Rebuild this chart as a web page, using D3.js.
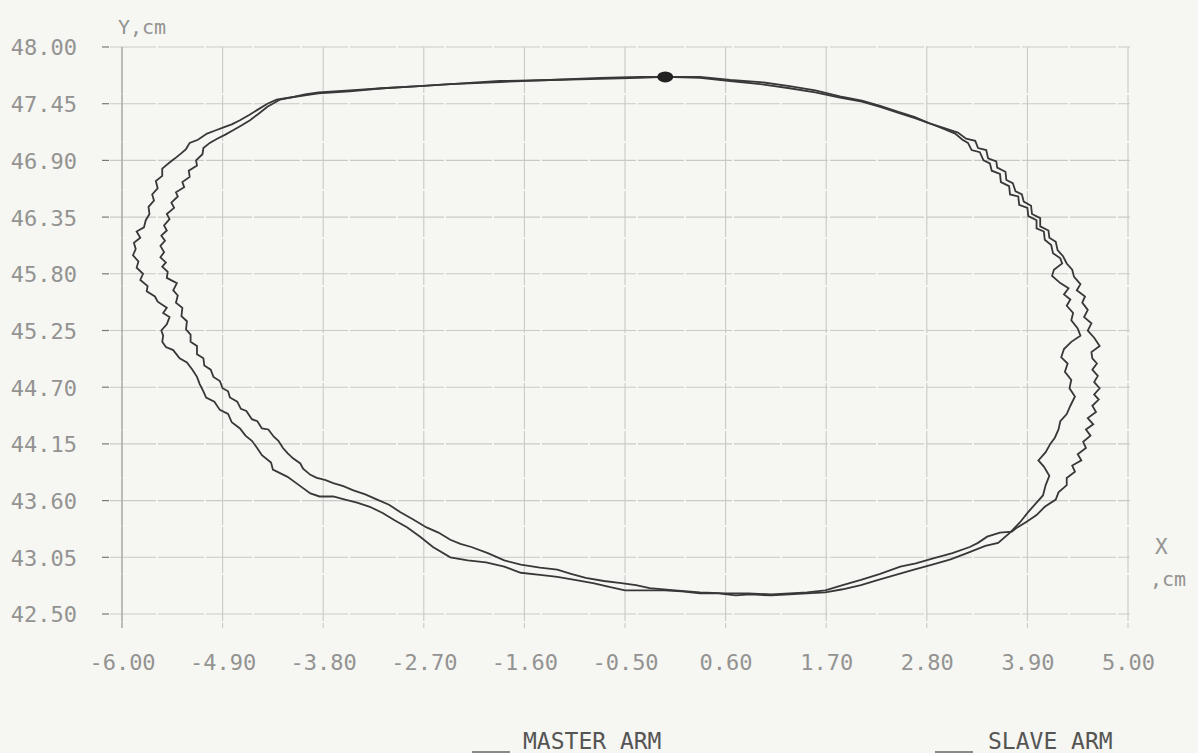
<!DOCTYPE html>
<html>
<head>
<meta charset="utf-8">
<script src="https://cdn.jsdelivr.net/npm/d3@7"></script>
<style>
  html, body { margin: 0; padding: 0; background: #f6f6f3; }
  svg { display: block; }
</style>
</head>
<body>
<svg id="chart" width="1198" height="753"></svg>
<script>
// Axis tick values (cm)
const xTicks = [-6.00, -4.90, -3.80, -2.70, -1.60, -0.50, 0.60, 1.70, 2.80, 3.90, 5.00];
const yTicks = [42.50, 43.05, 43.60, 44.15, 44.70, 45.25, 45.80, 46.35, 46.90, 47.45, 48.00];

// End-effector trajectory of the master arm, [X, Y] in cm
const masterArm = [
  [-0.06,47.71],[0.32,47.70],[0.65,47.67],[0.98,47.64],[1.30,47.60],[1.58,47.56],[1.85,47.51],[2.09,47.47],
  [2.29,47.42],[2.49,47.36],[2.67,47.31],[2.83,47.26],[3.00,47.20],[3.11,47.16],[3.19,47.10],[3.25,47.07],
  [3.29,47.00],[3.38,46.98],[3.42,46.90],[3.49,46.87],[3.51,46.80],[3.60,46.77],[3.61,46.69],[3.70,46.65],
  [3.71,46.57],[3.80,46.55],[3.81,46.47],[3.90,46.44],[3.91,46.36],[4.00,46.32],[4.00,46.24],[4.08,46.21],
  [4.09,46.13],[4.16,46.08],[4.18,46.00],[4.26,45.95],[4.28,45.90],[4.19,45.84],[4.17,45.78],[4.26,45.71],
  [4.35,45.66],[4.30,45.60],[4.37,45.55],[4.33,45.49],[4.40,45.42],[4.38,45.35],[4.45,45.27],[4.48,45.20],
  [4.38,45.14],[4.30,45.07],[4.27,44.99],[4.34,44.93],[4.31,44.85],[4.38,44.77],[4.36,44.69],[4.42,44.61],
  [4.37,44.52],[4.33,44.44],[4.26,44.37],[4.24,44.29],[4.20,44.21],[4.15,44.15],[4.10,44.07],[4.02,43.99],
  [4.08,43.93],[4.14,43.84],[4.10,43.75],[4.07,43.65],[4.00,43.58],[3.91,43.49],[3.82,43.39],[3.71,43.29],
  [3.58,43.19],[3.44,43.16],[3.24,43.09],[3.06,43.03],[2.86,42.98],[2.66,42.93],[2.46,42.88],[2.27,42.83],
  [2.08,42.78],[1.88,42.74],[1.69,42.71],[1.49,42.70],[1.30,42.69],[1.10,42.68],[0.87,42.69],[0.71,42.68],
  [0.52,42.70],[0.32,42.70],[0.12,42.72],[-0.07,42.73],[-0.28,42.73],[-0.50,42.73],[-0.66,42.76],[-0.85,42.80],
  [-1.05,42.83],[-1.24,42.86],[-1.43,42.88],[-1.64,42.90],[-1.82,42.96],[-2.02,43.00],[-2.22,43.02],[-2.41,43.05],
  [-2.60,43.15],[-2.74,43.25],[-2.88,43.34],[-3.02,43.41],[-3.15,43.48],[-3.29,43.54],[-3.43,43.58],[-3.56,43.61],
  [-3.69,43.64],[-3.84,43.64],[-3.94,43.67],[-4.08,43.76],[-4.19,43.83],[-4.35,43.90],[-4.37,43.97],[-4.47,44.04],
  [-4.53,44.12],[-4.58,44.18],[-4.65,44.23],[-4.71,44.30],[-4.80,44.36],[-4.84,44.44],[-4.93,44.48],[-4.99,44.56],
  [-5.08,44.60],[-5.11,44.66],[-5.15,44.73],[-5.18,44.80],[-5.23,44.87],[-5.29,44.94],[-5.37,44.98],[-5.44,45.06],
  [-5.52,45.09],[-5.56,45.14],[-5.55,45.20],[-5.57,45.25],[-5.51,45.31],[-5.48,45.38],[-5.55,45.42],[-5.51,45.47],
  [-5.61,45.53],[-5.64,45.58],[-5.73,45.63],[-5.72,45.68],[-5.80,45.74],[-5.77,45.80],[-5.84,45.86],[-5.82,45.92],
  [-5.88,45.98],[-5.85,46.04],[-5.87,46.10],[-5.80,46.15],[-5.84,46.21],[-5.76,46.25],[-5.74,46.32],[-5.70,46.38],
  [-5.71,46.45],[-5.65,46.51],[-5.67,46.57],[-5.61,46.63],[-5.63,46.70],[-5.56,46.75],[-5.56,46.82],[-5.48,46.88],
  [-5.42,46.92],[-5.35,46.97],[-5.30,47.01],[-5.26,47.07],[-5.17,47.10],[-5.07,47.16],[-4.98,47.19],[-4.89,47.22],
  [-4.80,47.25],[-4.71,47.29],[-4.61,47.34],[-4.52,47.39],[-4.41,47.45],[-4.31,47.49],[-4.16,47.51],[-4.00,47.53],
  [-3.85,47.55],[-3.51,47.57],[-3.15,47.60],[-2.75,47.62],[-2.41,47.64],[-1.87,47.66],[-1.32,47.68],[-0.77,47.69],
  [-0.34,47.70]
];

// End-effector trajectory of the slave arm, [X, Y] in cm
const slaveArm = [
  [-0.06,47.71],[0.32,47.71],[0.65,47.68],[0.98,47.66],[1.30,47.62],[1.58,47.58],[1.85,47.52],[2.09,47.48],
  [2.29,47.43],[2.49,47.37],[2.67,47.32],[2.83,47.26],[3.00,47.21],[3.14,47.17],[3.23,47.11],[3.33,47.09],
  [3.36,47.02],[3.45,47.00],[3.47,46.92],[3.56,46.89],[3.57,46.83],[3.66,46.79],[3.67,46.71],[3.74,46.68],
  [3.77,46.60],[3.84,46.57],[3.86,46.50],[3.94,46.46],[3.95,46.38],[4.04,46.34],[4.04,46.26],[4.13,46.22],
  [4.14,46.15],[4.21,46.11],[4.23,46.03],[4.29,45.97],[4.33,45.90],[4.39,45.84],[4.41,45.77],[4.48,45.70],
  [4.44,45.64],[4.53,45.58],[4.50,45.52],[4.56,45.45],[4.52,45.38],[4.60,45.32],[4.56,45.25],[4.63,45.18],
  [4.69,45.10],[4.60,45.04],[4.61,44.98],[4.66,44.93],[4.61,44.87],[4.67,44.81],[4.63,44.75],[4.69,44.69],
  [4.63,44.63],[4.68,44.58],[4.61,44.52],[4.65,44.46],[4.56,44.40],[4.62,44.34],[4.54,44.29],[4.59,44.23],
  [4.51,44.17],[4.54,44.11],[4.45,44.05],[4.49,43.99],[4.39,43.94],[4.42,43.88],[4.33,43.82],[4.33,43.75],
  [4.24,43.68],[4.21,43.61],[4.09,43.54],[4.00,43.46],[3.90,43.40],[3.79,43.34],[3.73,43.30],[3.60,43.29],
  [3.46,43.25],[3.36,43.19],[3.27,43.15],[3.08,43.09],[2.87,43.04],[2.68,42.99],[2.51,42.96],[2.29,42.89],
  [2.08,42.83],[1.88,42.78],[1.69,42.73],[1.49,42.71],[1.30,42.70],[1.10,42.69],[0.85,42.70],[0.60,42.70],
  [0.32,42.71],[0.05,42.73],[-0.23,42.75],[-0.38,42.78],[-0.54,42.80],[-0.73,42.82],[-0.93,42.85],[-1.09,42.89],
  [-1.24,42.93],[-1.43,42.95],[-1.64,42.98],[-1.82,43.02],[-2.00,43.09],[-2.18,43.15],[-2.30,43.18],[-2.41,43.22],
  [-2.54,43.29],[-2.67,43.34],[-2.82,43.42],[-2.96,43.49],[-3.08,43.56],[-3.21,43.61],[-3.34,43.66],[-3.47,43.70],
  [-3.58,43.74],[-3.69,43.77],[-3.78,43.80],[-3.87,43.82],[-3.94,43.85],[-4.02,43.91],[-4.05,43.96],[-4.13,44.01],
  [-4.19,44.06],[-4.24,44.11],[-4.29,44.18],[-4.34,44.22],[-4.40,44.29],[-4.47,44.30],[-4.52,44.37],[-4.58,44.39],
  [-4.64,44.47],[-4.70,44.49],[-4.74,44.56],[-4.82,44.60],[-4.84,44.66],[-4.90,44.69],[-4.93,44.76],[-5.00,44.80],
  [-5.03,44.87],[-5.10,44.91],[-5.11,44.98],[-5.18,45.02],[-5.18,45.10],[-5.25,45.14],[-5.25,45.21],[-5.30,45.26],
  [-5.29,45.34],[-5.35,45.39],[-5.34,45.47],[-5.41,45.52],[-5.39,45.59],[-5.44,45.64],[-5.40,45.71],[-5.51,45.76],
  [-5.50,45.82],[-5.56,45.87],[-5.52,45.91],[-5.58,45.96],[-5.54,46.01],[-5.58,46.07],[-5.53,46.12],[-5.57,46.17],
  [-5.51,46.22],[-5.54,46.27],[-5.48,46.33],[-5.51,46.38],[-5.43,46.44],[-5.46,46.49],[-5.39,46.55],[-5.41,46.59],
  [-5.32,46.64],[-5.34,46.69],[-5.26,46.74],[-5.27,46.80],[-5.18,46.85],[-5.19,46.90],[-5.12,46.96],[-5.11,47.02],
  [-5.04,47.07],[-4.96,47.11],[-4.87,47.15],[-4.79,47.19],[-4.69,47.24],[-4.60,47.29],[-4.51,47.35],[-4.41,47.42],
  [-4.27,47.49],[-4.16,47.51],[-4.00,47.54],[-3.85,47.56],[-3.51,47.58],[-3.15,47.60],[-2.75,47.62],[-2.41,47.64],
  [-1.87,47.67],[-1.32,47.68],[-0.77,47.70],[-0.34,47.71]
];

// Common start/end position of both arms
const startPoint = [-0.06, 47.71];

const seriesNames = ["MASTER ARM", "SLAVE ARM"];

const svg = d3.select("#chart");

const x = d3.scaleLinear().domain([-6, 5]).range([122, 1128]);
const y = d3.scaleLinear().domain([42.5, 48]).range([614, 47]);

const gridColor = "#c9c9c6";
const labelColor = "#939391";
const inkColor = "#383838";
const monoFont = "'DejaVu Sans Mono', 'Liberation Mono', monospace";

// Paper background
svg.append("rect").attr("width", 1198).attr("height", 753).attr("fill", "#f6f6f3");

// Grid
const grid = svg.append("g").attr("class", "grid");
grid.selectAll("line.h").data(yTicks).join("line")
  .attr("class", "h")
  .attr("x1", 110).attr("x2", x(5) + 2)
  .attr("y1", d => y(d)).attr("y2", d => y(d))
  .attr("stroke", gridColor).attr("stroke-width", 1.1)
  .attr("stroke-dasharray", "46,2");
grid.selectAll("line.v").data(xTicks).join("line")
  .attr("class", "v")
  .attr("x1", d => x(d)).attr("x2", d => x(d))
  .attr("y1", y(48)).attr("y2", y(42.5) + 14)
  .attr("stroke", gridColor).attr("stroke-width", 1.1)
  .attr("stroke-dasharray", "46,2");

// Left axis line and small ticks
svg.append("line")
  .attr("x1", x(-6)).attr("x2", x(-6))
  .attr("y1", y(48)).attr("y2", y(42.5) + 14)
  .attr("stroke", "#a4a4a2").attr("stroke-width", 1.2);
svg.append("g").selectAll("line").data(yTicks).join("line")
  .attr("x1", 102).attr("x2", 109)
  .attr("y1", d => y(d)).attr("y2", d => y(d))
  .attr("stroke", "#7a7a78").attr("stroke-width", 1.2);

// Tick labels through d3 axes
const yAxis = d3.axisLeft(y).tickValues(yTicks).tickFormat(d => d.toFixed(2))
  .tickSize(0).tickPadding(45);
const gy = svg.append("g").attr("transform", `translate(${x(-6)},0)`).call(yAxis);
gy.select(".domain").remove();
gy.selectAll("text")
  .attr("font-family", monoFont).attr("font-size", 22)
  .attr("fill", labelColor).attr("dy", "0.36em");

const xAxis = d3.axisBottom(x).tickValues(xTicks).tickFormat(d => d.toFixed(2))
  .tickSize(0).tickPadding(0);
const gx = svg.append("g").attr("transform", `translate(0,${y(42.5)})`).call(xAxis);
gx.select(".domain").remove();
gx.selectAll("text")
  .attr("font-family", monoFont).attr("font-size", 22)
  .attr("fill", labelColor).attr("y", 56).attr("dy", 0);

// Axis titles
svg.append("text").attr("x", 118).attr("y", 34).text("Y,cm")
  .attr("font-family", monoFont).attr("font-size", 20).attr("fill", labelColor);
svg.append("text").attr("x", 1155).attr("y", 554).text("X")
  .attr("font-family", monoFont).attr("font-size", 21).attr("fill", labelColor);
svg.append("text").attr("x", 1150).attr("y", 586).text(",cm")
  .attr("font-family", monoFont).attr("font-size", 20).attr("fill", labelColor);

// Trajectories
const line = d3.line().x(d => x(d[0])).y(d => y(d[1])).curve(d3.curveLinearClosed);
svg.append("g").selectAll("path").data([masterArm, slaveArm]).join("path")
  .attr("d", d => line(d))
  .attr("fill", "none")
  .attr("stroke", inkColor)
  .attr("stroke-width", 1.8)
  .attr("stroke-linejoin", "miter");

// Start point marker
svg.append("ellipse")
  .attr("cx", x(startPoint[0])).attr("cy", y(startPoint[1]))
  .attr("rx", 8).attr("ry", 5.5)
  .attr("fill", "#222");

// Legend
const legendPos = [{lx: 472, tx: 523}, {lx: 935, tx: 988}];
const legend = svg.append("g").selectAll("g").data(seriesNames).join("g");
legend.append("line")
  .attr("x1", (d, i) => legendPos[i].lx).attr("x2", (d, i) => legendPos[i].lx + 38)
  .attr("y1", 752).attr("y2", 752)
  .attr("stroke", "#666").attr("stroke-width", 1.5);
legend.append("text")
  .attr("x", (d, i) => legendPos[i].tx).attr("y", 749)
  .text(d => d)
  .attr("font-family", monoFont).attr("font-size", 23)
  .attr("fill", "#555553");
</script>
</body>
</html>
